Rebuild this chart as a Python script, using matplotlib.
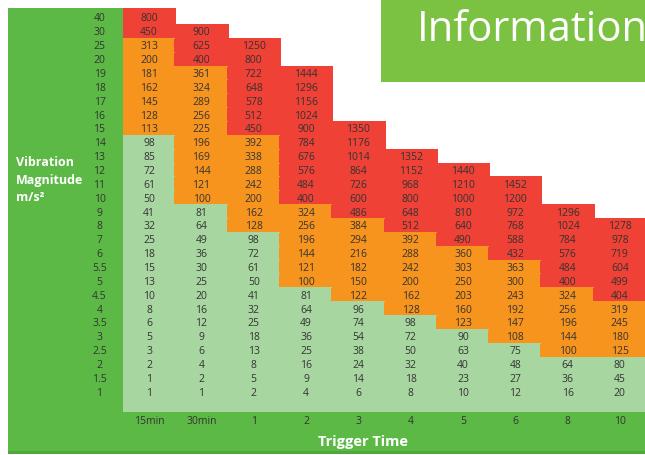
import numpy as np
import matplotlib
matplotlib.use("Agg")
import matplotlib.pyplot as plt
from matplotlib.patches import Rectangle
from matplotlib.colors import ListedColormap, BoundaryNorm

plt.rcParams['font.family'] = ['Open Sans', 'DejaVu Sans']

# rows top to bottom, columns left to right
magnitudes = ["40", "30", "25", "20", "19", "18", "17", "16", "15", "14", "13", "12", "11", "10",
              "9", "8", "7", "6", "5.5", "5", "4.5", "4", "3.5", "3", "2.5", "2", "1.5", "1"]
trigger_times = ["15min", "30min", "1", "2", "3", "4", "5", "6", "8", "10"]

t_15min = [800, 450, 313, 200, 181, 162, 145, 128, 113, 98, 85, 72, 61, 50,
           41, 32, 25, 18, 15, 13, 10, 8, 6, 5, 3, 2, 1, 1]
t_30min = [None, 900, 625, 400, 361, 324, 289, 256, 225, 196, 169, 144, 121, 100,
           81, 64, 49, 36, 30, 25, 20, 16, 12, 9, 6, 4, 2, 1]
t_1 = [None, None, 1250, 800, 722, 648, 578, 512, 450, 392, 338, 288, 242, 200,
       162, 128, 98, 72, 61, 50, 41, 32, 25, 18, 13, 8, 5, 2]
t_2 = [None] * 4 + [1444, 1296, 1156, 1024, 900, 784, 676, 576, 484, 400,
                    324, 256, 196, 144, 121, 100, 81, 64, 49, 36, 25, 16, 9, 4]
t_3 = [None] * 8 + [1350, 1176, 1014, 864, 726, 600, 486, 384, 294, 216, 182, 150,
                    122, 96, 74, 54, 38, 24, 14, 6]
t_4 = [None] * 10 + [1352, 1152, 968, 800, 648, 512, 392, 288, 242, 200, 162, 128,
                     98, 72, 50, 32, 18, 8]
t_5 = [None] * 11 + [1440, 1210, 1000, 810, 640, 490, 360, 303, 250, 203, 160, 123,
                     90, 63, 40, 23, 10]
t_6 = [None] * 12 + [1452, 1200, 972, 768, 588, 432, 363, 300, 243, 192, 147, 108,
                     75, 48, 27, 12]
t_8 = [None] * 14 + [1296, 1024, 784, 576, 484, 400, 324, 256, 196, 144, 100, 64, 36, 16]
t_10 = [None] * 15 + [1278, 978, 719, 604, 499, 404, 319, 245, 180, 125, 80, 45, 20]

columns = [t_15min, t_30min, t_1, t_2, t_3, t_4, t_5, t_6, t_8, t_10]
levels = [0, 100, 400, 100000]   # green / orange / red bands

dark_green = "#5db946"
light_green = "#a8d6a0"
orange = "#f7941e"
red = "#ef4136"
info_green = "#7cc242"
txt = "#333333"

grid = np.array([[np.nan if v is None else v for v in col] for col in columns], dtype=float).T
nrows, ncols = grid.shape

fig = plt.figure(figsize=(6.45, 4.56), dpi=100)

# background in pixel coordinates
bg = fig.add_axes([0, 0, 1, 1])
bg.set_xlim(0, 645)
bg.set_ylim(456, 0)
bg.axis("off")
bg.add_patch(Rectangle((8, 9), 637, 444, color=dark_green, lw=0))
bg.add_patch(Rectangle((8, 452.5), 637, 2.5, color="#4fa83c", lw=0))
bg.add_patch(Rectangle((123, 9), 522, 404, color="white", lw=0))
bg.add_patch(Rectangle((381, 0), 264, 83, color=info_green, lw=0))
bg.text(417, 41, "Information", color="white", fontsize=30, ha="left", va="baseline")
for k, s in enumerate(["Vibration", "Magnitude", "m/s²"]):
    bg.text(16, 163 + k * 17.5, s, color="white", fontsize=9, fontweight="bold",
            ha="left", va="center")
bg.text(363, 442, "Trigger Time", color="white", fontsize=10.5, fontweight="bold",
        ha="center", va="center")

# table of cells
top_ext = 0.22
bottom_lim = 28.92
ax = fig.add_axes([123 / 645, (456 - 413) / 456, 523 / 645, 404 / 456])
ax.set_facecolor("none")
ax.axis("off")
ax.set_xlim(0, ncols)
ax.set_ylim(bottom_lim, -top_ext)

cmap = ListedColormap([light_green, orange, red])
cmap.set_bad((1, 1, 1, 0))
norm = BoundaryNorm(levels, cmap.N)
x_edges = np.arange(ncols + 1)
y_edges = np.arange(nrows + 1, dtype=float)
y_edges[0] = -top_ext
ax.pcolormesh(x_edges, y_edges, np.ma.masked_invalid(grid), cmap=cmap, norm=norm,
              shading="flat", edgecolor="face", linewidth=0.3)
ax.axhspan(nrows, bottom_lim, color=light_green, lw=0)

for i in range(nrows):
    for j in range(ncols):
        if not np.isnan(grid[i, j]):
            ax.text(j + 0.5, i + 0.5, f"{int(grid[i, j])}", ha="center", va="center",
                    fontsize=7.5, color=txt)
    ax.text(-0.45, i + 0.5, magnitudes[i], ha="center", va="center", fontsize=7.5,
            color=txt, clip_on=False)

for j, lab in enumerate(trigger_times):
    ax.text(j + 0.5, 29.5, lab, ha="center", va="center", fontsize=7.5, color=txt, clip_on=False)

fig.savefig("out.png", dpi=100)
